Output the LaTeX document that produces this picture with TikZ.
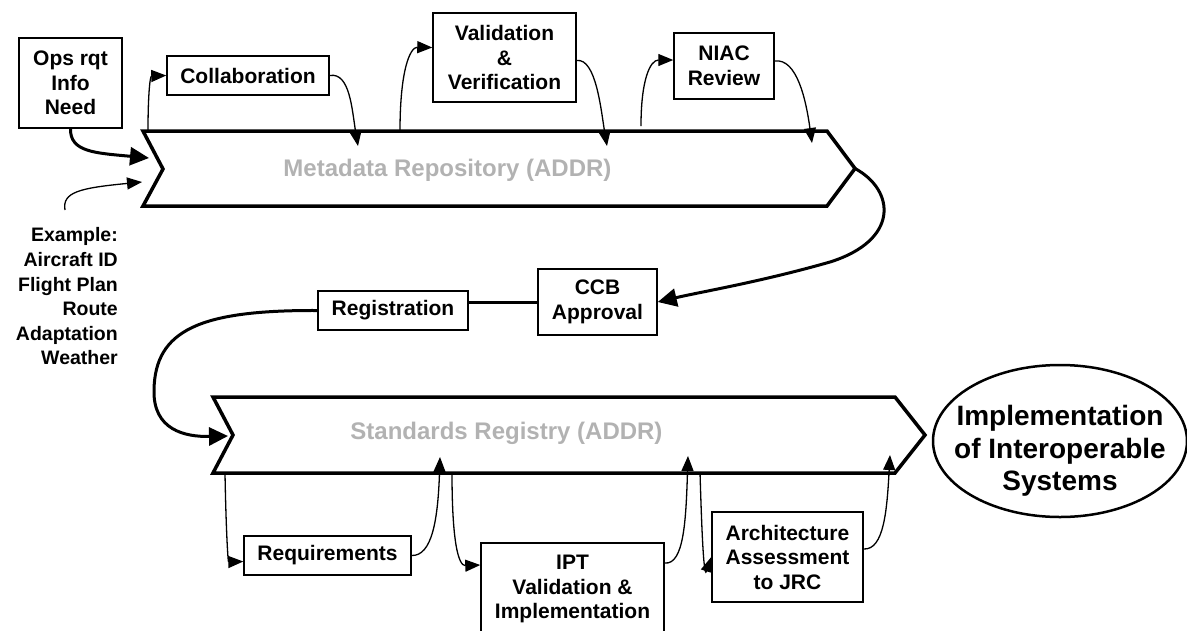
\documentclass[tikz,border=0pt]{standalone}
\usepackage{fontspec}
\setmainfont{Liberation Sans}
\usetikzlibrary{arrows.meta,shapes.geometric}

\begin{document}
\begin{tikzpicture}[x=1pt,y=-1pt,
  box/.style={draw,line width=1.5pt,align=center,inner sep=0pt,font=\bfseries\fontsize{21}{24.5}\selectfont},
  repo/.style={line width=3.5pt,line join=miter},
  repotext/.style={text=black!30,font=\bfseries\fontsize{24}{28}\selectfont},
  note/.style={align=right,inner sep=0pt,font=\bfseries\fontsize{19.5}{24.6}\selectfont},
  goal/.style={draw,ellipse,line width=2.5pt,minimum width=254pt,minimum height=152pt,inner sep=0pt},
  goaltext/.style={align=center,inner sep=0pt,font=\bfseries\fontsize{28}{32.5}\selectfont},
  flow/.style={line width=1.3pt,-{Triangle[length=15pt,width=12pt]}},
  bigflow/.style={line width=3pt,-{Triangle[length=19pt,width=18pt]}},
  link/.style={line width=3pt}]
\useasboundingbox (0,0) rectangle (1187,630);
%\draw[step=50,gray,very thin] (0,0) grid (1187,630); %bckgr grid

% repositories
\draw[repo] (143,131) -- (827,131) -- (855,168.5) -- (827,206) -- (143,206) -- (163,169) -- cycle;
\draw[repo] (213,397) -- (895,397) -- (925,435) -- (895,473) -- (213,473) -- (233,435) -- cycle;
\node[repotext] (metaname) at (447.5,170) {Metadata Repository (ADDR)};
\node[repotext] (stdname) at (506.5,433) {Standards Registry (ADDR)};

\coordinate (metaIn) at (149,158);
\coordinate (exIn) at (142,182);
\coordinate (exStart) at (65,210);
\coordinate (metaTip) at (855,168.5);
\coordinate (m1) at (148,131);
\coordinate (m2) at (358,146);
\coordinate (m3) at (400,131);
\coordinate (m4) at (607,146);
\coordinate (m5) at (641,126);
\coordinate (m6) at (812,143);
\coordinate (stdIn) at (228,436);
\coordinate (s1) at (225,473);
\coordinate (s2) at (440,457);
\coordinate (s3) at (452,473);
\coordinate (s4) at (688,456);
\coordinate (s5) at (700,472);
\coordinate (s6) at (890,455);

% steps
\node[box,minimum width=103pt,minimum height=90pt] (ops) at (70.5,83) {Ops rqt\\Info\\Need};
\node[box,minimum width=162pt,minimum height=39pt] (collab) at (248,75.5) {Collaboration};
\node[box,minimum width=143pt,minimum height=89pt] (valid) at (504.5,57.5) {Validation\\\&\\Verification};
\node[box,minimum width=100pt,minimum height=66pt] (niac) at (724,66) {NIAC\\Review};
\node[box,minimum width=150pt,minimum height=39pt] (reg) at (393,310.5) {Registration};
\node[box,minimum width=119pt,minimum height=66pt] (ccb) at (597.5,302) {CCB\\Approval};
\node[box,minimum width=167pt,minimum height=39pt] (req) at (327.5,555.5) {Requirements};
\node[box,minimum width=183pt,minimum height=92pt] (ipt) at (572.5,589) {IPT\\Validation \&\\Implementation};
\node[box,minimum width=151pt,minimum height=90pt] (arch) at (787.5,557) {Architecture\\Assessment\\to JRC};
\node[goal] (impl) at (1060,441) {};
\node[goaltext] (impltext) at (1060,451) {Implementation\\of Interoperable\\Systems};
\node[note,anchor=east] (examples) at (118,296.5) {Example:\\Aircraft ID\\Flight Plan\\Route\\Adaptation\\Weather};

% flows
\draw[bigflow] (ops.south) .. controls (70,152) and (95,153) .. (metaIn);
\draw[flow] (exStart) .. controls (62,192) and (80,188) .. (exIn);
\draw[flow] (m1) .. controls (148,95) and (150,76) .. (collab.west);
\draw[flow] (collab.east) .. controls (350,72) and (352,110) .. (m2);
\draw[flow] (m3) .. controls (400,70) and (410,47) .. ([yshift=10pt]valid.west);
\draw[flow] ([yshift=-3pt]valid.east) .. controls (596,58) and (601,110) .. (m4);
\draw[flow] (m5) .. controls (641,80) and (650,60) .. ([yshift=6pt]niac.west);
\draw[flow] ([yshift=5pt]niac.east) .. controls (797,58) and (806,100) .. (m6);
\draw[bigflow] (metaTip) .. controls (895,190) and (900,240) .. (830,262) .. controls (760,282) and (700,292) .. (ccb.east);
\draw[link] (ccb.west) -- (reg.east |- ccb.west);
\draw[bigflow] (reg.west) .. controls (200,310) and (155,330) .. (154,390) .. controls (153,430) and (185,437) .. (stdIn);
\draw[flow] (s1) .. controls (226,530) and (228,562) .. ([yshift=-6pt]req.west);
\draw[flow] (req.east) .. controls (432,556) and (438,520) .. (s2);
\draw[flow] (s3) .. controls (452,540) and (458,566) .. ([yshift=24pt]ipt.west);
\draw[flow] ([yshift=26pt]ipt.east) .. controls (684,565) and (686,520) .. (s4);
\draw[flow] (s5) .. controls (702,540) and (704,580) .. (arch.west);
\draw[flow] ([yshift=8pt]arch.east) .. controls (884,550) and (887,510) .. (s6);

\end{tikzpicture}
\end{document}
